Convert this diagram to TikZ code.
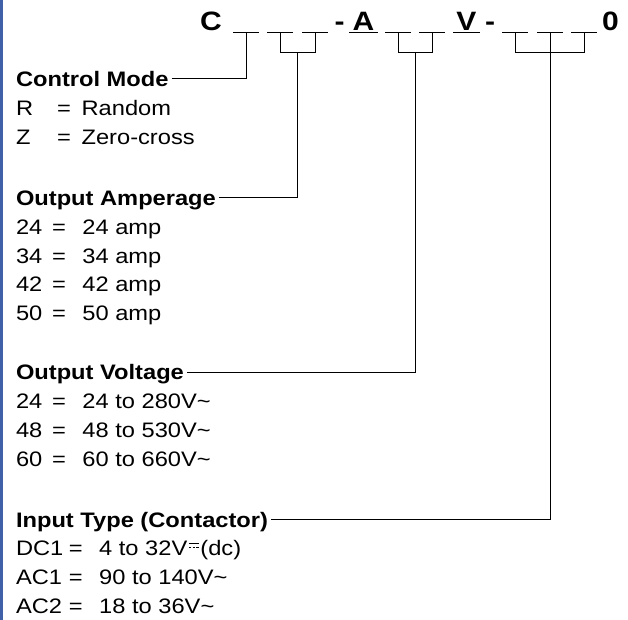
\documentclass[tikz,border=0pt]{standalone}
\usepackage{fontspec}
\setmainfont{Liberation Sans}[FakeStretch=1.13]
\usetikzlibrary{positioning, calc}
\definecolor{c1}{HTML}{000000}
\definecolor{barcolor}{HTML}{4060A8}

% small dc sign: solid over dashed
\newcommand{\dcsym}{\hspace{0.03cm}\tikz[baseline=0pt]{%
    \draw[line width=0.45pt] (0,0.31) -- (0.25,0.31);
    \draw[line width=0.45pt, dash pattern=on 0.055cm off 0.04cm] (0,0.225) -- (0.25,0.225);}\hspace{0.03cm}}

\begin{document}
\begin{tikzpicture}[
    every node/.style={font=\fontsize{14.9}{18}\selectfont, inner sep=0pt, outer sep=0pt},
    item/.style={anchor=base west, text=c1},
    head/.style={
        anchor=base west, font=\fontsize{14.9}{18}\selectfont\bfseries,
        text height=0.40cm, text depth=0pt, inner xsep=0.075cm,
    },
    code/.style={anchor=base, text=c1, font=\fontsize{18.9}{22}\selectfont\bfseries},
    blank/.style={line width=0.7pt, color=c1},
    lead/.style={line width=0.7pt, color=c1},
]
\useasboundingbox (0,0) rectangle (15.7,15.5);
\fill[barcolor] (0,0) rectangle (0.075,15.5);

% ================================================ the code line
\node[code] (cC) at (5.275, 14.725) {C};
\node[code] (d1) at (8.4875, 14.725) {-};
\node[code] (cA) at (9.0875, 14.725) {A};
\node[code] (cV) at (11.6625, 14.725) {V};
\node[code] (d2) at (12.25, 14.725) {-};
\node[code] (c0) at (15.2625, 14.725) {0};

\foreach \x [count=\i] in {5.825, 6.675, 7.55, 9.625, 10.475, 12.55, 13.425, 14.275}{
    \draw[blank] (\x, 14.69) -- ++(0.66, 0) coordinate[pos=0.5] (u\i);
}
\draw[blank] ($(cA.base west)+(-0.08,-0.035)$) -- ($(cA.base east)+(0.08,-0.035)$);
\draw[blank] ($(cV.base west)+(-0.08,-0.035)$) -- ($(cV.base east)+(0.08,-0.035)$);

% brackets under the blanks
\draw[lead] (u2) -- ++(0,-0.51) -| (u3);
\coordinate (m23) at ($(u2)!0.5!(u3)+(0,-0.51)$);
\draw[lead] (u4) -- ++(0,-0.51) -| (u5);
\coordinate (m45) at ($(u4)!0.5!(u5)+(0,-0.51)$);
\draw[lead] (u6) -- ++(0,-0.51) -| (u8);
\draw[lead] (u7) -- ++(0,-0.51) coordinate (m678);

% ================================================ control mode
\node[head] (cm) at (0.325, 13.33) {Control Mode};
\foreach \k/\v [count=\i] in {R/Random, Z/Zero-cross}{
    \node[item] (cm-k\i) at (0.40, {13.33 - \i*0.72}) {\k};
    \node[item] (cm-e\i) at (1.43, {13.33 - \i*0.72}) {=};
    \node[item] (cm-v\i) at (2.04, {13.33 - \i*0.72}) {\v};
}

% ================================================ output amperage
\node[head] (amp) at (0.325, 10.36) {Output Amperage};
\foreach \k/\v [count=\i] in {24/24 amp, 34/34 amp, 42/42 amp, 50/50 amp}{
    \node[item] (amp-k\i) at (0.40, {10.36 - \i*0.72}) {\k};
    \node[item] (amp-e\i) at (1.30, {10.36 - \i*0.72}) {=};
    \node[item] (amp-v\i) at (2.06, {10.36 - \i*0.72}) {\v};
}

% ================================================ output voltage
\node[head] (vo) at (0.325, 6.00) {Output Voltage};
\foreach \k/\v [count=\i] in {24/24 to 280V\textasciitilde, 48/48 to 530V\textasciitilde,
                              60/60 to 660V\textasciitilde}{
    \node[item] (vo-k\i) at (0.40, {6.00 - \i*0.72}) {\k};
    \node[item] (vo-e\i) at (1.30, {6.00 - \i*0.72}) {=};
    \node[item] (vo-v\i) at (2.06, {6.00 - \i*0.72}) {\v};
}

% ================================================ input type
\node[head] (inp) at (0.325, 2.32) {Input Type (Contactor)};
\foreach \k/\v [count=\i] in {DC1/4 to 32V\dcsym(dc), AC1/90 to 140V\textasciitilde,
                              AC2/18 to 36V\textasciitilde}{
    \node[item] (inp-k\i) at (0.40, {2.32 - \i*0.72}) {\k};
    \node[item] (inp-e\i) at (1.72, {2.32 - \i*0.72}) {=};
    \node[item] (inp-v\i) at (2.48, {2.32 - \i*0.72}) {\v};
}

% leaders
\draw[lead] (cm.east) -| (u1);
\draw[lead] (amp.east) -| (m23);
\draw[lead] (vo.east) -| (m45);
\draw[lead] (inp.east) -| (m678);

\end{tikzpicture}
\end{document}
